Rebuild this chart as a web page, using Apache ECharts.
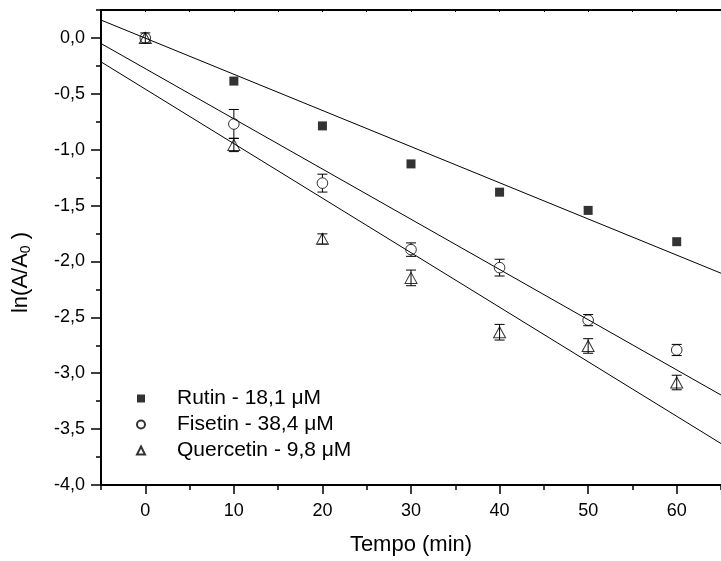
<!DOCTYPE html>
<html>
<head>
<meta charset="utf-8">
<script src="https://cdn.jsdelivr.net/npm/echarts@6/dist/echarts.min.js"></script>
<style>
  html, body { margin: 0; padding: 0; background: #fff; }
  #chart { width: 721px; height: 561px; }
</style>
</head>
<body>
<div id="chart"></div>
<script>
// time points (min)
const tempo = [0, 10, 20, 30, 40, 50, 60];

// ln(A/A0) (no Rutin marker drawn at t = 0)
const rutin = [null, -0.386, -0.787, -1.127, -1.38, -1.543, -1.823];
const fisetin = [0, -0.77, -1.299, -1.894, -2.055, -2.525, -2.792];
const quercetin = [0, -0.957, -1.798, -2.147, -2.633, -2.756, -3.083];

// error bars (+/-)
const fisetinErr = [0.02, 0.13, 0.08, 0.06, 0.075, 0.05, 0.05];
const quercetinErr = [0.045, 0.06, 0.045, 0.07, 0.07, 0.065, 0.065];

// fitted lines, endpoints at x = -5 and x = 65
const fitX = [-5, 65];
const rutinFit = [0.16, -2.105];
const fisetinFit = [-0.05, -3.195];
const quercetinFit = [-0.214, -3.629];

// axis ticks
const xLabels = [0, 10, 20, 30, 40, 50, 60];
const yLabels = [-4, -3.5, -3, -2.5, -2, -1.5, -1, -0.5, 0];

const names = ['Rutin - 18,1 \u03BCM', 'Fisetin - 38,4 \u03BCM', 'Quercetin - 9,8 \u03BCM'];

const font = 'Arial, "Liberation Sans", sans-serif';

let myChart = echarts.init(document.getElementById('chart'));

function pairs(xs, ys) {
  return xs.map((x, i) => [x, ys[i]]).filter((p) => p[1] !== null);
}

function errData(ys, es) {
  return tempo.map((t, i) => [t, ys[i], es[i]]);
}

// error bar drawing; gap = half height of the marker that hides the bar
function errBar(gap) {
  return function (params, api) {
    let x = api.value(0), y = api.value(1), e = api.value(2);
    let c = api.coord([x, y]);
    let top = api.coord([x, y + e]);
    let bot = api.coord([x, y - e]);
    let style = { stroke: '#000', lineWidth: 1, fill: null };
    let kids = [];
    if (c[1] - top[1] > gap) {
      kids.push({ type: 'line', shape: { x1: c[0], y1: top[1], x2: c[0], y2: c[1] - gap }, style: style });
      kids.push({ type: 'line', shape: { x1: c[0] - 5, y1: top[1], x2: c[0] + 5, y2: top[1] }, style: style });
    }
    if (bot[1] - c[1] > gap) {
      kids.push({ type: 'line', shape: { x1: c[0], y1: c[1] + gap, x2: c[0], y2: bot[1] }, style: style });
      kids.push({ type: 'line', shape: { x1: c[0] - 5, y1: bot[1], x2: c[0] + 5, y2: bot[1] }, style: style });
    }
    return { type: 'group', children: kids };
  };
}

function fitLine(ys) {
  return {
    type: 'line',
    data: pairs(fitX, ys),
    showSymbol: false,
    silent: true,
    clip: false,
    lineStyle: { color: '#000', width: 1 },
    z: 1
  };
}

const axisCommonX = { type: 'value', min: -5, max: 65, splitLine: { show: false } };
const axisCommonY = { type: 'value', min: -4, max: 0.25, splitLine: { show: false } };

myChart.setOption({
  animation: false,
  backgroundColor: '#fff',
  grid: { left: 101, top: 10, width: 627, height: 476 },
  legend: {
    data: names,
    orient: 'vertical',
    left: 131,
    top: 383,
    itemWidth: 8,
    itemHeight: 8,
    itemGap: 5,
    textStyle: { fontFamily: font, fontSize: 21, color: '#000', lineHeight: 21, padding: [0, 0, 0, 27] }
  },
  xAxis: [
    Object.assign({}, axisCommonX, {
      position: 'bottom',
      interval: 5,
      name: 'Tempo (min)',
      nameLocation: 'middle',
      nameGap: 49,
      nameTextStyle: { fontFamily: font, fontSize: 22, color: '#000' },
      axisLine: { onZero: false, lineStyle: { color: '#000', width: 2 } },
      axisTick: { length: 5, lineStyle: { color: '#000', width: 1.5 } },
      axisLabel: {
        customValues: xLabels,
        margin: 17,
        fontFamily: font,
        fontSize: 18,
        color: '#000'
      }
    }),
    Object.assign({}, axisCommonX, {
      position: 'bottom',
      interval: 5,
      axisLine: { show: false, onZero: false },
      axisTick: { customValues: xLabels, length: 9, lineStyle: { color: '#000', width: 1.5 } },
      axisLabel: { show: false }
    }),
    Object.assign({}, axisCommonX, {
      position: 'top',
      interval: 5,
      axisLine: { onZero: false, lineStyle: { color: '#000', width: 2 } },
      axisTick: { inside: true, length: 2, lineStyle: { color: '#000', width: 1 } },
      axisLabel: { show: false }
    })
  ],
  yAxis: [
    Object.assign({}, axisCommonY, {
      position: 'left',
      interval: 0.25,
      name: 'ln(A/A{sub|0} )',
      nameLocation: 'middle',
      nameGap: 68,
      nameRotate: 90,
      nameTextStyle: {
        fontFamily: font,
        fontSize: 22,
        color: '#000',
        padding: [0, 50, 0, 0],
        rich: {
          sub: { fontFamily: font, fontSize: 14, color: '#000', padding: [11, 0, 0, 0] }
        }
      },
      axisLine: { onZero: false, lineStyle: { color: '#000', width: 2 } },
      axisTick: { length: 5, lineStyle: { color: '#000', width: 1.5 } },
      axisLabel: {
        customValues: yLabels,
        margin: 16,
        fontFamily: font,
        fontSize: 18,
        color: '#000',
        formatter: (v) => v.toFixed(1).replace('.', ',')
      }
    }),
    Object.assign({}, axisCommonY, {
      position: 'left',
      interval: 0.25,
      axisLine: { show: false, onZero: false },
      axisTick: { customValues: yLabels, length: 10, lineStyle: { color: '#000', width: 1.5 } },
      axisLabel: { show: false }
    })
  ],
  series: [
    fitLine(rutinFit),
    fitLine(fisetinFit),
    fitLine(quercetinFit),
    {
      type: 'custom',
      renderItem: errBar(5.3),
      data: errData(fisetin, fisetinErr),
      silent: true,
      z: 2
    },
    {
      type: 'custom',
      renderItem: errBar(0),
      data: errData(quercetin, quercetinErr),
      silent: true,
      z: 2
    },
    {
      name: names[0],
      type: 'scatter',
      data: pairs(tempo, rutin),
      symbol: 'rect',
      symbolSize: 9,
      itemStyle: { color: '#000' },
      z: 3
    },
    {
      name: names[1],
      type: 'scatter',
      data: pairs(tempo, fisetin),
      symbol: 'circle',
      symbolSize: 10.6,
      itemStyle: { color: 'rgba(0,0,0,0)', borderColor: '#000', borderWidth: 1 },
      z: 3
    },
    {
      name: names[2],
      type: 'scatter',
      data: pairs(tempo, quercetin),
      symbol: 'triangle',
      symbolSize: [12, 11],
      itemStyle: { color: 'rgba(0,0,0,0)', borderColor: '#000', borderWidth: 1 },
      z: 3
    }
  ]
});
</script>
</body>
</html>
